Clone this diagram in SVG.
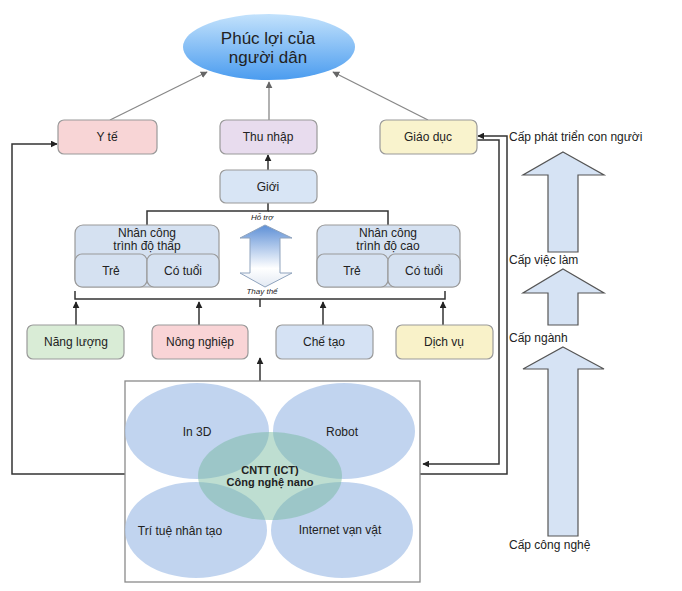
<svg xmlns="http://www.w3.org/2000/svg" width="682" height="591" viewBox="0 0 682 591">
<defs>
<linearGradient id="gTop" x1="0" y1="0" x2="0" y2="1">
<stop offset="0" stop-color="#c3e2fc"/>
<stop offset="1" stop-color="#4b9cef"/>
</linearGradient>
<linearGradient id="gDbl" x1="0" y1="0" x2="0" y2="1">
<stop offset="0" stop-color="#5d8fd6"/>
<stop offset="0.7" stop-color="#ffffff"/>
<stop offset="1" stop-color="#e2e9f3"/>
</linearGradient>
<marker id="ah" viewBox="0 0 10 10" refX="9" refY="5" markerWidth="7" markerHeight="7" orient="auto" markerUnits="userSpaceOnUse">
<path d="M0,0 L10,5 L0,10 z" fill="#222"/>
</marker>
<marker id="ahg" viewBox="0 0 10 10" refX="9" refY="5" markerWidth="7" markerHeight="7" orient="auto" markerUnits="userSpaceOnUse">
<path d="M0,0 L10,5 L0,10 z" fill="#666"/>
</marker>
</defs>
<style>
text{font-family:"Liberation Sans",Arial,sans-serif;fill:#222;text-anchor:middle}
.b{stroke:#9a9a9a;stroke-width:1.2}
.t{font-size:12px}
.s{font-size:8px;font-style:italic}
.lab{font-size:12px;text-anchor:start}
.c{fill:none;stroke:#333;stroke-width:1.5}
.g{fill:none;stroke:#888;stroke-width:1.3}
.blk{fill:#d6e3f4;stroke:#555;stroke-width:1.2}
.ov{fill:#b0c8ea;opacity:0.78}
</style>
<rect width="682" height="591" fill="#ffffff"/>

<g id="connectors">
<line class="g" x1="110" y1="120" x2="207" y2="72" marker-end="url(#ahg)"/>
<line class="g" x1="269" y1="120" x2="269" y2="82" marker-end="url(#ahg)"/>
<line class="g" x1="428" y1="120" x2="333" y2="72" marker-end="url(#ahg)"/>
<line class="c" x1="268" y1="170" x2="268" y2="155" marker-end="url(#ah)"/>
<polyline class="c" points="268,203 268,211 147,211 147,226"/>
<polyline class="c" points="268,211 388,211 388,226"/>
<polyline class="c" points="75,291 75,299 445,299 445,291"/>
<line class="c" x1="260" y1="299" x2="260" y2="307"/>
<line class="c" x1="76" y1="325" x2="76" y2="302" marker-end="url(#ah)"/>
<line class="c" x1="199" y1="325" x2="199" y2="302" marker-end="url(#ah)"/>
<line class="c" x1="323" y1="325" x2="323" y2="302" marker-end="url(#ah)"/>
<line class="c" x1="443" y1="325" x2="443" y2="302" marker-end="url(#ah)"/>
<line class="c" x1="260" y1="381" x2="260" y2="358" marker-end="url(#ah)"/>
<polyline class="c" points="125,474 12,474 12,144 57,144" marker-end="url(#ah)"/>
<polyline class="c" points="477,140 499,140 499,464 423,464" marker-end="url(#ah)"/>
<polyline class="c" points="420,474 507,474 507,136 478,136" marker-end="url(#ah)"/>
</g>

<g id="node-phucloi">
<ellipse cx="269" cy="47" rx="86" ry="33" fill="url(#gTop)"/>
<text x="268" y="44" style="font-size:17px">Phúc lợi của</text>
<text x="268" y="63" style="font-size:17px">người dân</text>
</g>

<g id="node-yte"><rect class="b" x="58" y="120" width="99" height="34" rx="6" fill="#f8d5d6"/><text class="t" x="107" y="141">Y tế</text></g>
<g id="node-thunhap"><rect class="b" x="220" y="120" width="97" height="34" rx="6" fill="#e8dcee"/><text class="t" x="268" y="141">Thu nhập</text></g>
<g id="node-giaoduc"><rect class="b" x="380" y="120" width="97" height="34" rx="6" fill="#f9f3cd"/><text class="t" x="428" y="141">Giáo dục</text></g>
<g id="node-gioi"><rect class="b" x="220" y="170" width="97" height="33" rx="6" fill="#d8e5f5"/><text class="t" x="268" y="191">Giới</text></g>

<g id="node-lowskill">
<rect class="b" x="75" y="225" width="144" height="62" rx="8" fill="#d5e1f1"/>
<text class="t" x="147" y="237">Nhân công</text>
<text class="t" x="147" y="250">trình độ thấp</text>
<rect class="b" x="75" y="254" width="72" height="33" rx="7" fill="#d5e1f1"/>
<rect class="b" x="147" y="254" width="72" height="33" rx="7" fill="#d5e1f1"/>
<text class="t" x="111" y="275">Trẻ</text>
<text class="t" x="183" y="275">Có tuổi</text>
</g>
<g id="node-highskill">
<rect class="b" x="317" y="225" width="143" height="62" rx="8" fill="#d5e1f1"/>
<text class="t" x="388" y="237">Nhân công</text>
<text class="t" x="388" y="250">trình độ cao</text>
<rect class="b" x="317" y="254" width="71" height="33" rx="7" fill="#d5e1f1"/>
<rect class="b" x="388" y="254" width="72" height="33" rx="7" fill="#d5e1f1"/>
<text class="t" x="352" y="275">Trẻ</text>
<text class="t" x="424" y="275">Có tuổi</text>
</g>

<g id="node-doublearrow">
<polygon points="265,225 292,238 280,238 280,273 292,273 265,287 240,273 250,273 250,238 240,238" fill="url(#gDbl)" stroke="#8fa3bd" stroke-width="1"/>
<text class="s" x="262" y="220">Hỗ trợ</text>
<text class="s" x="262" y="294">Thay thế</text>
</g>

<g id="node-nangluong"><rect class="b" x="27" y="325" width="97" height="34" rx="6" fill="#d9ecd6"/><text class="t" x="76" y="346">Năng lượng</text></g>
<g id="node-nongnghiep"><rect class="b" x="152" y="325" width="96" height="34" rx="6" fill="#f9d4d6"/><text class="t" x="200" y="346">Nông nghiệp</text></g>
<g id="node-chetao"><rect class="b" x="276" y="325" width="97" height="34" rx="6" fill="#d5e2f4"/><text class="t" x="324" y="346">Chế tạo</text></g>
<g id="node-dichvu"><rect class="b" x="396" y="325" width="97" height="34" rx="6" fill="#f9f2c9"/><text class="t" x="444" y="346">Dịch vụ</text></g>

<g id="node-tech">
<rect x="125" y="381" width="295" height="201" fill="#ffffff" stroke="#8a8a8a" stroke-width="1.3"/>
<ellipse class="ov" cx="197" cy="431" rx="72" ry="48"/>
<ellipse class="ov" cx="344" cy="431" rx="71" ry="48"/>
<ellipse class="ov" cx="196" cy="530" rx="71" ry="48"/>
<ellipse class="ov" cx="342" cy="530" rx="71" ry="48"/>
<ellipse cx="270" cy="476" rx="72" ry="44" fill="#6fb59a" opacity="0.45"/>
<text class="t" x="197" y="436">In 3D</text>
<text class="t" x="342" y="436">Robot</text>
<text x="270" y="474" style="font-size:11px;font-weight:bold">CNTT (ICT)</text>
<text x="270" y="486" style="font-size:11px;font-weight:bold">Công nghệ nano</text>
<text class="t" x="180" y="535">Trí tuệ nhân tạo</text>
<text class="t" x="340" y="534">Internet vạn vật</text>
</g>

<g id="node-levels">
<polygon class="blk" points="563,152 604,175 578,175 578,252 548,252 548,175 523,175"/>
<polygon class="blk" points="563,269 604,293 578,293 578,325 548,325 548,293 523,293"/>
<polygon class="blk" points="563,347 604,369 578,369 578,536 548,536 548,369 523,369"/>
<text class="lab" x="509" y="141">Cấp phát triển con người</text>
<text class="lab" x="509" y="264">Cấp việc làm</text>
<text class="lab" x="509" y="342">Cấp ngành</text>
<text class="lab" x="509" y="549">Cấp công nghệ</text>
</g>
</svg>
